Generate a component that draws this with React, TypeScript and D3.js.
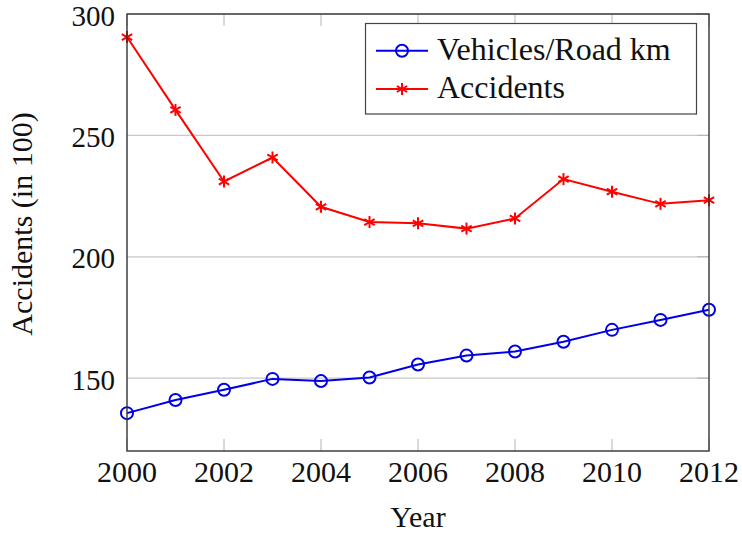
import React from "react";
import * as d3 from "d3";

const years = [2000, 2001, 2002, 2003, 2004, 2005, 2006, 2007, 2008, 2009, 2010, 2011, 2012];
const vehicles = [135.6, 141, 145.2, 149.7, 148.8, 150.3, 155.6, 159.3, 161, 165, 169.9, 174, 178.2];
const accidents = [290.5, 260.5, 231, 240.9, 220.6, 214.3, 213.8, 211.6, 215.8, 232, 226.8, 221.8, 223.3];
const xTicks = [2000, 2002, 2004, 2006, 2008, 2010, 2012];
const yTicks = [150, 200, 250, 300];
const seriesNames = ["Vehicles/Road km", "Accidents"];

const FONT = "'Liberation Serif', 'Times New Roman', serif";

function Star({ cx, cy, r, color }: { cx: number; cy: number; r: number; color: string }) {
  const angles = [90, 30, -30];
  return (
    <g stroke={color} strokeWidth={2}>
      {angles.map((a) => {
        const rad = (a * Math.PI) / 180;
        const dx = r * Math.cos(rad);
        const dy = r * Math.sin(rad);
        return <line key={a} x1={cx - dx} y1={cy - dy} x2={cx + dx} y2={cy + dy} />;
      })}
    </g>
  );
}

export default function App() {
  const left = 127, right = 709, top = 14, bottom = 451;
  const x = d3.scaleLinear().domain([2000, 2012]).range([left, right]);
  const y = d3.scaleLinear().domain([120, 300]).range([bottom, top]);
  const line = d3
    .line<number>()
    .x((_, i) => x(years[i]))
    .y((d) => y(d));

  const blue = "#0000e6";
  const red = "#ff0000";

  return (
    <svg
      width={742}
      height={534}
      style={{ position: "absolute", left: 0, top: 0, background: "#fff" }}
      fontFamily={FONT}
    >
      {/* grid */}
      {yTicks.map((t) => (
        <line key={"g" + t} x1={left} x2={right} y1={y(t)} y2={y(t)} stroke="#c8c8c8" strokeWidth={1.2} />
      ))}
      {/* x ticks (inside, top & bottom) */}
      {xTicks.map((t) => (
        <g key={"xt" + t} stroke="#b4b4b4" strokeWidth={1}>
          <line x1={x(t)} x2={x(t)} y1={bottom} y2={bottom - 12} />
          <line x1={x(t)} x2={x(t)} y1={top} y2={top + 12} />
        </g>
      ))}
      {/* y ticks right side */}
      {yTicks.map((t) => (
        <line key={"yt" + t} x1={right - 12} x2={right} y1={y(t)} y2={y(t)} stroke="#b4b4b4" strokeWidth={1} />
      ))}

      {/* series */}
      <path d={line(vehicles) || ""} fill="none" stroke={blue} strokeWidth={2} />
      <path d={line(accidents) || ""} fill="none" stroke={red} strokeWidth={2} />
      {vehicles.map((v, i) => (
        <circle key={"c" + i} cx={x(years[i])} cy={y(v)} r={6} fill="none" stroke={blue} strokeWidth={2} />
      ))}
      {accidents.map((v, i) => (
        <Star key={"s" + i} cx={x(years[i])} cy={y(v)} r={6} color={red} />
      ))}

      {/* frame */}
      <rect x={left} y={top} width={right - left} height={bottom - top} fill="none" stroke="#333" strokeWidth={1.4} />

      {/* tick labels */}
      {yTicks.map((t) => (
        <text key={"yl" + t} x={115} y={y(t) + 11.5} textAnchor="end" fontSize={29} fill="#111">
          {t}
        </text>
      ))}
      {xTicks.map((t) => (
        <text key={"xl" + t} x={x(t)} y={482} textAnchor="middle" fontSize={30} fill="#111">
          {t}
        </text>
      ))}

      {/* axis labels */}
      <text x={(left + right) / 2} y={527} textAnchor="middle" fontSize={30} fill="#111">
        Year
      </text>
      <text
        transform={`translate(32, 224) rotate(-90)`}
        textAnchor="middle"
        fontSize={30}
        fill="#111"
      >
        Accidents (in 100)
      </text>

      {/* legend */}
      <rect x={365.5} y={23.5} width={331} height={90.5} fill="#fff" stroke="#444" strokeWidth={1.2} />
      <line x1={376} x2={428} y1={50.7} y2={50.7} stroke={blue} strokeWidth={2} />
      <circle cx={402} cy={50.7} r={6} fill="none" stroke={blue} strokeWidth={2} />
      <text x={437} y={60} fontSize={32} fill="#111">
        {seriesNames[0]}
      </text>
      <line x1={376} x2={428} y1={89} y2={89} stroke={red} strokeWidth={2} />
      <Star cx={402} cy={89} r={6} color={red} />
      <text x={437} y={98} fontSize={32} fill="#111">
        {seriesNames[1]}
      </text>
    </svg>
  );
}
